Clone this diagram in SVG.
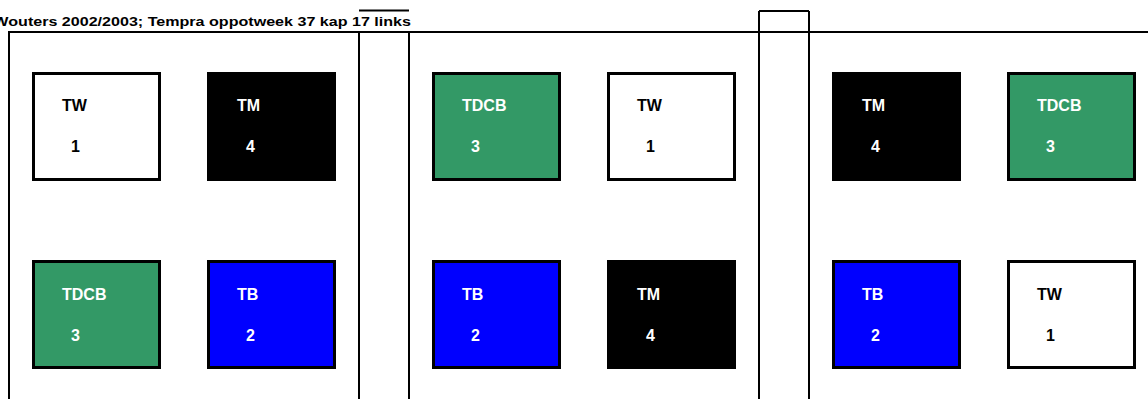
<svg xmlns="http://www.w3.org/2000/svg" width="1148" height="399" viewBox="0 0 1148 399">
<style>
.ln{stroke:#000;stroke-width:2;fill:none}
.bx{stroke:#000;stroke-width:3}
.w{fill:#fff}.k{fill:#000}.g{fill:#339966}.b{fill:#0000ff}
text{font-family:"Liberation Sans",Arial,sans-serif;font-weight:bold;font-size:16px}
.tw{fill:#000}.tl{fill:#fff}
.title{font-size:13.3px;fill:#000}
</style>
<rect width="1148" height="399" fill="#fff"/>
<g id="frame">
<path class="ln" d="M8 32H1148M9 32V399M359 32V399M409 32V399M759 11V399M809 11V399M759 11H809M359 10.5H409"/>
</g>
<text class="title" transform="translate(411,26) scale(1.21,1)" x="0" y="0" text-anchor="end">Wouters 2002/2003; Tempra oppotweek 37 kap 17 links</text>
<g id="n1"><rect class="bx w" x="33.5" y="73.5" width="126" height="106"/><text class="tw" x="62" y="111">TW</text><text class="tw" x="71" y="152">1</text></g>
<g id="n2"><rect class="bx k" x="208.5" y="73.5" width="126" height="106"/><text class="tl" x="237" y="111">TM</text><text class="tl" x="246" y="152">4</text></g>
<g id="n3"><rect class="bx g" x="33.5" y="261.5" width="126" height="106"/><text class="tl" x="62" y="300">TDCB</text><text class="tl" x="71" y="341">3</text></g>
<g id="n4"><rect class="bx b" x="208.5" y="261.5" width="126" height="106"/><text class="tl" x="237" y="300">TB</text><text class="tl" x="246" y="341">2</text></g>
<g id="n5"><rect class="bx g" x="433.5" y="73.5" width="126" height="106"/><text class="tl" x="462" y="111">TDCB</text><text class="tl" x="471" y="152">3</text></g>
<g id="n6"><rect class="bx w" x="608.5" y="73.5" width="126" height="106"/><text class="tw" x="637" y="111">TW</text><text class="tw" x="646" y="152">1</text></g>
<g id="n7"><rect class="bx b" x="433.5" y="261.5" width="126" height="106"/><text class="tl" x="462" y="300">TB</text><text class="tl" x="471" y="341">2</text></g>
<g id="n8"><rect class="bx k" x="608.5" y="261.5" width="126" height="106"/><text class="tl" x="637" y="300">TM</text><text class="tl" x="646" y="341">4</text></g>
<g id="n9"><rect class="bx k" x="833.5" y="73.5" width="126" height="106"/><text class="tl" x="862" y="111">TM</text><text class="tl" x="871" y="152">4</text></g>
<g id="n10"><rect class="bx g" x="1008.5" y="73.5" width="126" height="106"/><text class="tl" x="1037" y="111">TDCB</text><text class="tl" x="1046" y="152">3</text></g>
<g id="n11"><rect class="bx b" x="833.5" y="261.5" width="126" height="106"/><text class="tl" x="862" y="300">TB</text><text class="tl" x="871" y="341">2</text></g>
<g id="n12"><rect class="bx w" x="1008.5" y="261.5" width="126" height="106"/><text class="tw" x="1037" y="300">TW</text><text class="tw" x="1046" y="341">1</text></g>
<g id="connectors"/>
</svg>
